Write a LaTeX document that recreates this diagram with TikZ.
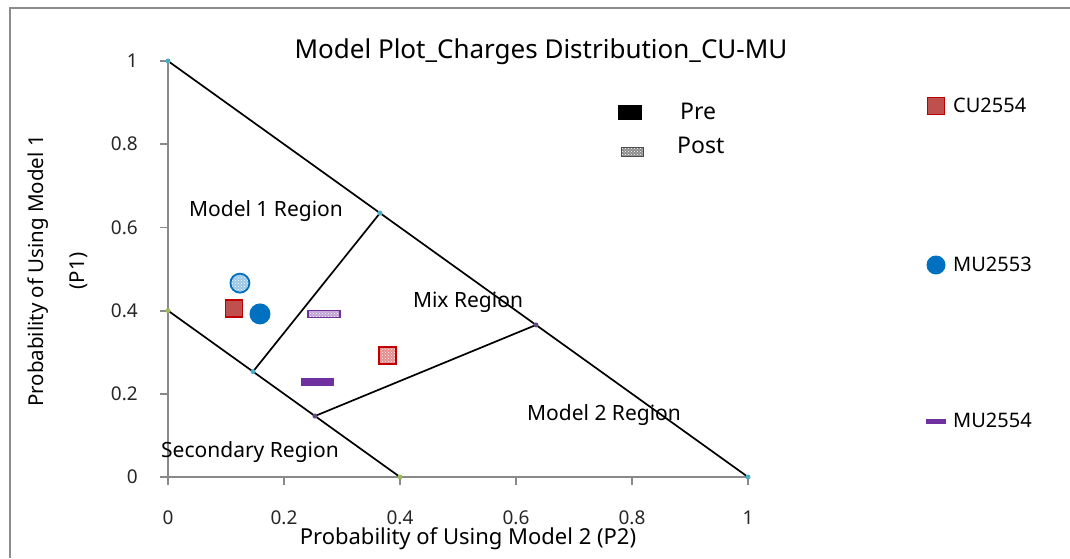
\documentclass[tikz,border=0pt]{standalone}
\usepackage{fontspec}
\setmainfont{Noto Sans}
\usetikzlibrary{patterns}
\definecolor{axisgray}{HTML}{898989}
\definecolor{framegray}{HTML}{8C8C8C}
\definecolor{cufill}{HTML}{C0504D}
\definecolor{cuedge}{HTML}{C00000}
\definecolor{mublue}{HTML}{0070C0}
\definecolor{mupurple}{HTML}{7030A0}
\definecolor{dotteal}{HTML}{4BACC6}
\definecolor{dotgreen}{HTML}{9BBB59}
\definecolor{dotpurple}{HTML}{604A7B}
\begin{document}
\begin{tikzpicture}[x=1pt,y=-1pt,
  axisline/.style={draw=axisgray, line width=1.8pt},
  regline/.style={draw=black, line width=1.7pt},
  ticklbl/.style={font=\fontsize{19}{22}\selectfont, text=black!85, inner sep=0pt, text height=13.5pt, text depth=0pt},
  reglbl/.style={font=\fontsize{21}{25}\selectfont, inner sep=0pt},
  leglbl/.style={font=\fontsize{20}{24}\selectfont, inner sep=0pt, anchor=west},
  sqpre/.style={rectangle, draw=cuedge, fill=cufill, line width=1.8pt, minimum size=17pt, inner sep=0pt},
  sqpost/.style={rectangle, draw=cuedge, line width=1.8pt, minimum size=17pt, inner sep=0pt,
     preaction={fill=cuedge!45}, pattern=crosshatch dots, pattern color=white},
  cirpre/.style={circle, fill=mublue, minimum size=21pt, inner sep=0pt},
  cirpost/.style={circle, draw=mublue, line width=1.8pt, minimum size=19pt, inner sep=0pt,
     preaction={fill=mublue!40}, pattern=crosshatch dots, pattern color=white},
  dashpre/.style={rectangle, fill=mupurple, minimum width=33pt, minimum height=8pt, inner sep=0pt},
  dashpost/.style={rectangle, draw=mupurple, line width=1.6pt, minimum width=32pt, minimum height=7pt, inner sep=0pt,
     preaction={fill=mupurple!45}, pattern=crosshatch dots, pattern color=white},
  vdot/.style={circle, fill=#1, minimum size=5pt, inner sep=0pt}
]
\useasboundingbox (0,0) rectangle (1070,558);
% outer frame
\coordinate (fbl) at (10,558);
\coordinate (ftl) at (10,8);
\coordinate (ftr) at (1070,8);
\draw[framegray, line width=1.5pt] (fbl) -- (ftl) -- (ftr);

% title
\node[font=\fontsize{26}{31}\selectfont, inner sep=0pt] (title) at (541,52) {Model Plot\_Charges Distribution\_CU-MU};

\begin{scope}[shift={(168,477)}, x={(580pt,0pt)}, y={(0pt,416pt)}]
  % axes
  \coordinate (o) at (0,0);
  \coordinate (xend) at (1,0);
  \coordinate (yend) at (0,1);
  \coordinate (xstart) at (-0.0138,0);
  \draw[axisline] (xstart) -- (xend);
  \draw[axisline] (o) -- (yend);
  \foreach \v/\t [count=\i] in {0/0,0.2/0.2,0.4/0.4,0.6/0.6,0.8/0.8,1/1}{
    \coordinate (xt\i) at (\v,0);
    \draw[axisline] (xt\i) -- ++(0pt,-8pt);
    \node[ticklbl] (xl\i) at ([yshift=-41pt]xt\i) {\t};
    \coordinate (yt\i) at (0,\v);
    \draw[axisline] (yt\i) -- ++(-8pt,0pt);
    \node[ticklbl, anchor=east] (yl\i) at ([xshift=-30pt]yt\i) {\t};
  }
  % region lines
  \coordinate (a1) at (0,1);
  \coordinate (a2) at (1,0);
  \coordinate (b1) at (0,0.4);
  \coordinate (b2) at (0.4,0);
  \coordinate (c1) at (0.1466,0.2534);
  \coordinate (c2) at (0.3655,0.6345);
  \coordinate (d1) at (0.2534,0.1466);
  \coordinate (d2) at (0.6345,0.3655);
  \draw[regline] (a1) -- (a2);
  \draw[regline] (b1) -- (b2);
  \draw[regline] (c1) -- (c2);
  \draw[regline] (d1) -- (d2);
  \foreach \p in {a1,a2,c1,c2}{\node[vdot=dotteal] (v\p) at (\p) {};}
  \foreach \p in {b1,b2}{\node[vdot=dotgreen] (v\p) at (\p) {};}
  \foreach \p in {d1,d2}{\node[vdot=dotpurple] (v\p) at (\p) {};}

  % markers
  \node[cirpost] (mu53post) at (0.124,0.466) {};
  \node[sqpre] (cu54pre) at (0.1138,0.406) {};
  \node[cirpre] (mu53pre) at (0.1586,0.392) {};
  \node[dashpost] (mu54post) at (0.269,0.392) {};
  \node[sqpost] (cu54post) at (0.379,0.293) {};
  \node[dashpre] (mu54pre) at (0.257,0.228) {};
\end{scope}

% region labels
\node[reglbl] (r1) at (266,211) {Model 1 Region};
\node[reglbl] (rmix) at (468,302) {Mix Region};
\node[reglbl] (r2) at (604,415) {Model 2 Region};
\node[reglbl] (rsec) at (250,452) {Secondary Region};

% axis titles
\node[font=\fontsize{22}{26}\selectfont, inner sep=0pt, text height=15pt, text depth=4pt] (xtitle) at (468,539) {Probability of Using Model 2 (P2)};
\node[font=\fontsize{20.5}{24}\selectfont, inner sep=0pt, rotate=90] (ytitle1) at (38,271) {Probability of Using Model 1};
\node[font=\fontsize{20.5}{24}\selectfont, inner sep=0pt, rotate=90] (ytitle2) at (79,271) {(P1)};

% pre/post legend
\node[rectangle, fill=black, minimum width=24pt, minimum height=15pt, inner sep=0pt] (kpre) at (630,112.5) {};
\node[rectangle, draw=black!70, line width=0.8pt, minimum width=22pt, minimum height=9pt, inner sep=0pt,
      preaction={fill=black!45}, pattern=crosshatch dots, pattern color=white] (kpost) at (632,152) {};
\node[font=\fontsize{23}{28}\selectfont, inner sep=0pt, anchor=west] (tpre) at (680,111) {Pre};
\node[font=\fontsize{23}{28}\selectfont, inner sep=0pt, anchor=west] (tpost) at (677,145) {Post};

% series legend
\node[sqpre, minimum size=17pt] (lcu) at (936,106) {};
\node[leglbl] (tcu) at (953,105) {CU2554};
\node[cirpre, minimum size=19pt] (lmu53) at (936,265) {};
\node[leglbl] (tmu53) at (953,264) {MU2553};
\node[dashpre, minimum width=20pt, minimum height=5pt] (lmu54) at (936,421) {};
\node[leglbl] (tmu54) at (953,420) {MU2554};
\end{tikzpicture}
\end{document}
